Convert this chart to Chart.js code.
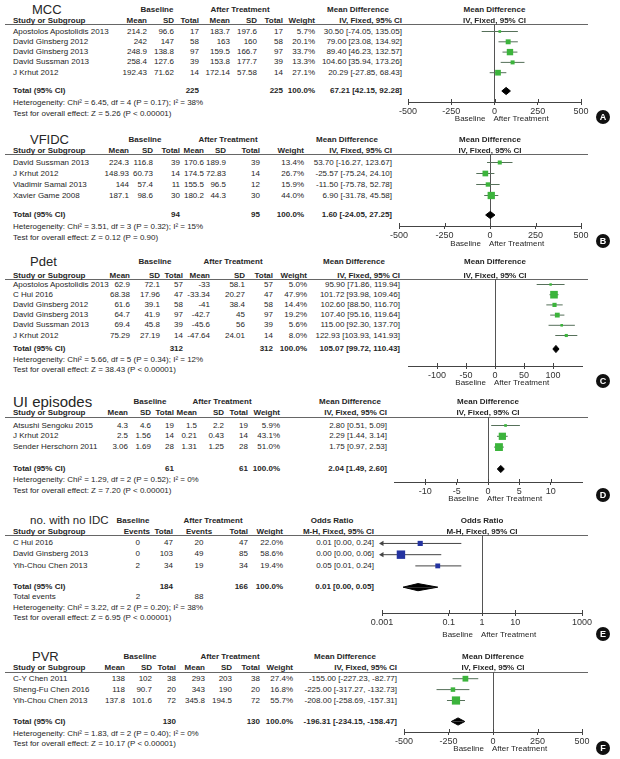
<!DOCTYPE html>
<html>
<head>
<meta charset="utf-8">
<script src="https://cdn.jsdelivr.net/npm/chart.js@4.4.0/dist/chart.umd.min.js"></script>
<style>
html, body { margin: 0; padding: 0; background: #fff; }
#page { position: relative; width: 620px; height: 759px; overflow: hidden; font-family: 'Liberation Sans', Arial, sans-serif; color: #262626; }
.t { position: absolute; white-space: nowrap; font-size: 8px; line-height: 10px; }
.b { font-weight: bold; }
.rule { position: absolute; height: 1px; background: #666; }
.badge { position: absolute; width: 14px; height: 14px; border-radius: 50%; background: #111; color: #fff; font-size: 9px; font-weight: bold; line-height: 14px; text-align: center; }
canvas { position: absolute; }
</style>
</head>
<body>
<div id="page"></div>
<script>
// ---- A: MCC ----
const mccStudy = ['Apostolos Apostolidis 2013', 'David Ginsberg 2012', 'David Ginsberg 2013', 'David Sussman 2013', 'J Krhut 2012'];
const mccBaseMean = [214.2, 242, 248.9, 258.4, 192.43];
const mccBaseSD = [96.6, 147, 138.8, 127.6, 71.62];
const mccBaseN = [17, 58, 97, 39, 14];
const mccAfterMean = [183.7, 163, 159.5, 153.8, 172.14];
const mccAfterSD = [197.6, 160, 166.7, 177.7, 57.58];
const mccAfterN = [17, 58, 97, 39, 14];
const mccWeight = [5.7, 20.1, 33.7, 13.3, 27.1];
const mccMD = [30.5, 79, 89.4, 104.6, 20.29];
const mccLo = [-74.05, 23.08, 46.23, 35.94, -27.85];
const mccHi = [135.05, 134.92, 132.57, 173.26, 68.43];
const mccTotal = [67.21, 42.15, 92.28];
const mccHet = [6.45, 4, 0.17, 38];
const mccZ = [5.26, '< 0.00001'];

// ---- B: VFIDC ----
const vfStudy = ['David Sussman 2013', 'J Krhut 2012', 'Vladimir Samal 2013', 'Xavier Game 2008'];
const vfBaseMean = [224.3, 148.93, 144, 187.1];
const vfBaseSD = [116.8, 60.73, 57.4, 98.6];
const vfBaseN = [39, 14, 11, 30];
const vfAfterMean = [170.6, 174.5, 155.5, 180.2];
const vfAfterSD = [189.9, 72.83, 96.5, 44.3];
const vfAfterN = [39, 14, 12, 30];
const vfWeight = [13.4, 26.7, 15.9, 44.0];
const vfMD = [53.7, -25.57, -11.5, 6.9];
const vfLo = [-16.27, -75.24, -75.78, -31.78];
const vfHi = [123.67, 24.1, 52.78, 45.58];
const vfTotal = [1.6, -24.05, 27.25];
const vfHet = [3.51, 3, 0.32, 15];
const vfZ = [0.12, '= 0.90'];

// ---- C: Pdet ----
const pdStudy = ['Apostolos Apostolidis 2013', 'C Hui 2016', 'David Ginsberg 2012', 'David Ginsberg 2013', 'David Sussman 2013', 'J Krhut 2012'];
const pdBaseMean = [62.9, 68.38, 61.6, 64.7, 69.4, 75.29];
const pdBaseSD = [72.1, 17.96, 39.1, 41.9, 45.8, 27.19];
const pdBaseN = [57, 47, 58, 97, 39, 14];
const pdAfterMean = [-33, -33.34, -41, -42.7, -45.6, -47.64];
const pdAfterSD = [58.1, 20.27, 38.4, 45, 56, 24.01];
const pdAfterN = [57, 47, 58, 97, 39, 14];
const pdWeight = [5.0, 47.9, 14.4, 19.2, 5.6, 8.0];
const pdMD = [95.9, 101.72, 102.6, 107.4, 115, 122.93];
const pdLo = [71.86, 93.98, 88.5, 95.16, 92.3, 103.93];
const pdHi = [119.94, 109.46, 116.7, 119.64, 137.7, 141.93];
const pdTotal = [105.07, 99.72, 110.43];
const pdHet = [5.66, 5, 0.34, 12];
const pdZ = [38.43, '< 0.00001'];

// ---- D: UI episodes ----
const uiStudy = ['Atsushi Sengoku 2015', 'J Krhut 2012', 'Sender Herschorn 2011'];
const uiBaseMean = [4.3, 2.5, 3.06];
const uiBaseSD = [4.6, 1.56, 1.69];
const uiBaseN = [19, 14, 28];
const uiAfterMean = [1.5, 0.21, 1.31];
const uiAfterSD = [2.2, 0.43, 1.25];
const uiAfterN = [19, 14, 28];
const uiWeight = [5.9, 43.1, 51.0];
const uiMD = [2.8, 2.29, 1.75];
const uiLo = [0.51, 1.44, 0.97];
const uiHi = [5.09, 3.14, 2.53];
const uiTotal = [2.04, 1.49, 2.6];
const uiHet = [1.29, 2, 0.52, 0];
const uiZ = [7.2, '< 0.00001'];

// ---- E: no. with no IDC (odds ratio) ----
const idcStudy = ['C Hui 2016', 'David Ginsberg 2013', 'Yih-Chou Chen 2013'];
const idcBaseEvents = [0, 0, 2];
const idcBaseN = [47, 103, 34];
const idcAfterEvents = [20, 49, 19];
const idcAfterN = [47, 85, 34];
const idcWeight = [22.0, 58.6, 19.4];
const idcOR = [0.014, 0.0037, 0.047];
const idcLo = [0.0004, 0.0002, 0.01];
const idcHi = [0.24, 0.06, 0.24];
const idcTotal = [0.012, 0.0043, 0.047];
const idcHet = [3.22, 2, 0.20, 38];
const idcZ = [6.95, '< 0.00001'];

// ---- F: PVR ----
const pvStudy = ['C-Y Chen 2011', 'Sheng-Fu Chen 2016', 'Yih-Chou Chen 2013'];
const pvBaseMean = [138, 118, 137.8];
const pvBaseSD = [102, 90.7, 101.6];
const pvBaseN = [38, 20, 72];
const pvAfterMean = [293, 343, 345.8];
const pvAfterSD = [203, 190, 194.5];
const pvAfterN = [38, 20, 72];
const pvWeight = [27.4, 16.8, 55.7];
const pvMD = [-155, -225, -208];
const pvLo = [-227.23, -317.27, -258.69];
const pvHi = [-82.77, -132.73, -157.31];
const pvTotal = [-196.31, -234.15, -158.47];
const pvHet = [1.83, 2, 0.40, 0];
const pvZ = [10.17, '< 0.00001'];

// axis ticks
const ticks500 = [-500, -250, 0, 250, 500];
const ticksPdet = [-100, -50, 0, 50, 100];
const ticksUI = [-10, -5, 0, 5, 10];
const ticksOR = [0.001, 0.1, 1, 10, 1000];

const FONT = "'Liberation Sans', Arial, sans-serif";
const GREEN = '#3cb43c', GLINE = '#56705a';
const page = document.getElementById('page');

function sum(a) { return a.reduce((s, v) => s + v, 0); }
function ciText(e, l, h) { return `${e.toFixed(2)} [${l.toFixed(2)}, ${h.toFixed(2)}]`; }

function txt(s, x, y, align, cls, size) {
    const d = document.createElement('div');
    d.className = 't' + (cls ? ' ' + cls : '');
    d.textContent = s;
    d.style.left = x + 'px';
    if (size) {
        d.style.fontSize = size + 'px';
        d.style.lineHeight = Math.round(size * 1.2) + 'px';
        d.style.top = (y - Math.round(size * 1.2) / 2) + 'px';
    } else {
        d.style.top = (y - 5) + 'px';
    }
    if (align === 'r') d.style.transform = 'translateX(-100%)';
    if (align === 'c') d.style.transform = 'translateX(-50%)';
    page.appendChild(d);
}

function hline(x1, x2, y) {
    const d = document.createElement('div');
    d.className = 'rule';
    d.style.left = x1 + 'px';
    d.style.width = (x2 - x1) + 'px';
    d.style.top = y + 'px';
    page.appendChild(d);
}

// small tick marks poking above the axis line too
const tickUp = {
    id: 'tickUp',
    afterDraw(chart) {
        const s = chart.scales.x, c = chart.ctx, yb = chart.chartArea.bottom;
        c.save();
        c.strokeStyle = '#444';
        c.lineWidth = 1;
        s.ticks.forEach(t => {
            const px = Math.round(s.getPixelForValue(t.value)) + 0.5;
            c.beginPath();
            c.moveTo(px, yb - 3);
            c.lineTo(px, yb);
            c.stroke();
        });
        c.restore();
    }
};

// forest plot part of a panel, drawn with Chart.js
function drawForest(p) {
    const Y = p.y, X = p.x, padX = 16, axH = 16;
    const w = X.axR - X.axL + 2 * padX, h = Y.axis - Y.rule + axH;
    const cv = document.createElement('canvas');
    cv.width = w; cv.height = h;
    cv.style.left = (X.axL - padX) + 'px';
    cv.style.top = Y.rule + 'px';
    page.appendChild(cv);

    const yMin = -(Y.row0 - Y.rule) / Y.sp;
    const yMax = yMin + (Y.axis - Y.rule) / Y.sp;
    const tIdx = (Y.total - Y.row0) / Y.sp;
    const dh = 3.6 / Y.sp;
    const [te, tl, th] = p.tot;

    const ds = [];
    ds.push({
        type: 'scatter', data: p.est.map((v, i) => ({ x: v, y: i })),
        pointStyle: 'rect', pointRadius: p.wt.map(wt => Math.sqrt(wt) * 1.1 / Math.SQRT2),
        backgroundColor: p.box, borderWidth: 0, order: 0
    });
    p.est.forEach((v, i) => ds.push({
        type: 'line', data: [{ x: p.lo[i], y: i }, { x: p.hi[i], y: i }],
        borderColor: p.line, borderWidth: 1, pointRadius: 0, order: 2
    }));
    // pooled estimate diamond (upper and lower halves)
    [-dh, dh].forEach(off => ds.push({
        type: 'line', data: [{ x: tl, y: tIdx }, { x: te, y: tIdx + off }, { x: th, y: tIdx }],
        fill: { value: tIdx }, backgroundColor: '#000', borderColor: '#000', borderWidth: 1,
        pointRadius: 0, order: 1
    }));
    // arrows for intervals running off the axis
    const cut = p.lo.map((v, i) => v < p.xmin ? { x: p.xmin, y: i } : null).filter(Boolean);
    if (cut.length) ds.push({
        type: 'scatter', data: cut, pointStyle: 'triangle', rotation: -90, pointRadius: 3,
        backgroundColor: p.line, borderWidth: 0, clip: false, order: 0
    });

    const chart = new Chart(cv, {
        type: 'scatter',
        data: { datasets: ds },
        plugins: [tickUp],
        options: {
            responsive: false, animation: false, events: [],
            layout: { autoPadding: false, padding: { left: padX, right: padX, top: 0, bottom: 0 } },
            plugins: { legend: { display: false }, tooltip: { enabled: false } },
            scales: {
                x: {
                    type: p.log ? 'logarithmic' : 'linear',
                    min: p.xmin, max: p.xmax,
                    afterBuildTicks: s => { s.ticks = p.ticks.map(v => ({ value: v })); },
                    afterFit: s => { s.height = axH; },
                    grid: {
                        color: c => (c.tick && c.tick.value === p.ref) ? '#555' : 'rgba(0,0,0,0)',
                        tickColor: '#444', tickLength: 3, lineWidth: 1
                    },
                    border: { display: true, color: '#444', width: 1 },
                    ticks: {
                        font: { family: FONT, size: 9 }, color: '#333', padding: 1,
                        maxRotation: 0, minRotation: 0, autoSkip: false,
                        callback: v => String(v)
                    }
                },
                y: { display: false, reverse: true, min: yMin, max: yMax }
            }
        }
    });

    const zx = X.axL - padX + chart.scales.x.getPixelForValue(p.ref);
    txt(p.kind === 'or' ? 'Odds Ratio' : 'Mean Difference', zx, Y.grp, 'c', 'b');
    txt(p.kind === 'or' ? 'M-H, Fixed, 95% CI' : 'IV, Fixed, 95% CI', zx, Y.head, 'c', 'b');
    txt('Baseline', zx - 9, Y.lab, 'r');
    txt('After Treatment', zx - 1, Y.lab, 'l');
}

function drawPanel(p) {
    const Y = p.y, X = p.x;
    txt(p.title, X.title, Y.title, 'l', '', p.titleSize);
    hline(5, 588, Y.rule);
    txt('Study or Subgroup', 13, Y.head, 'l', 'b');
    txt('Baseline', X.grpB, Y.grp, 'c', 'b');
    txt('After Treatment', X.grpA, Y.grp, 'c', 'b');

    if (p.kind === 'md') {
        ['Mean', 'SD', 'Total', 'Mean', 'SD', 'Total', 'Weight'].forEach((hd, k) => txt(hd, X.cols[k], Y.head, 'r', 'b'));
        txt('Mean Difference', X.ciHead, Y.grp, 'c', 'b');
        txt('IV, Fixed, 95% CI', X.ci, Y.head, 'r', 'b');
        p.study.forEach((s, i) => {
            const y = Y.row0 + i * Y.sp;
            txt(s, 13, y);
            [p.bm[i], p.bs[i], p.bn[i], p.am[i], p.as[i], p.an[i]].forEach((v, k) => txt(String(v), X.cols[k], y, 'r'));
            txt(p.wt[i].toFixed(1) + '%', X.cols[6], y, 'r');
            txt(ciText(p.est[i], p.lo[i], p.hi[i]), X.ci, y, 'r');
        });
        txt(String(sum(p.bn)), X.cols[2], Y.total, 'r', 'b');
        txt(String(sum(p.an)), X.cols[5], Y.total, 'r', 'b');
        txt('100.0%', X.cols[6], Y.total, 'r', 'b');
    } else {
        const hc = X.hcols;
        txt('Events', hc[0], Y.head, 'r', 'b');
        txt('Total', hc[1], Y.head, 'r', 'b');
        txt('Events', hc[2], Y.head, 'c', 'b');
        txt('Total', hc[3], Y.head, 'r', 'b');
        txt('Weight', hc[4], Y.head, 'r', 'b');
        txt('Odds Ratio', X.ciHead, Y.grp, 'c', 'b');
        txt('M-H, Fixed, 95% CI', X.ci, Y.head, 'r', 'b');
        p.study.forEach((s, i) => {
            const y = Y.row0 + i * Y.sp;
            txt(s, 13, y);
            txt(String(p.be[i]), X.cols[0], y, 'r');
            txt(String(p.bn[i]), X.cols[1], y, 'r');
            txt(String(p.ae[i]), X.cols[2], y, 'c');
            txt(String(p.an[i]), X.cols[3], y, 'r');
            txt(p.wt[i].toFixed(1) + '%', X.cols[4], y, 'r');
            txt(ciText(p.est[i], p.lo[i], p.hi[i]), X.ci, y, 'r');
        });
        txt(String(sum(p.bn)), X.cols[1], Y.total, 'r', 'b');
        txt(String(sum(p.an)), X.cols[3], Y.total, 'r', 'b');
        txt('100.0%', X.cols[4], Y.total, 'r', 'b');
        txt('Total events', 13, Y.tev);
        txt(String(sum(p.be)), X.cols[0] - 2, Y.tev, 'c');
        txt(String(sum(p.ae)), X.cols[2], Y.tev, 'c');
    }
    txt('Total (95% CI)', 13, Y.total, 'l', 'b');
    txt(ciText(...p.tot), X.ci, Y.total, 'r', 'b');
    const hz = p.het;
    txt(`Heterogeneity: Chi² = ${hz[0].toFixed(2)}, df = ${hz[1]} (P = ${hz[2].toFixed(2)}); I² = ${hz[3]}%`, 13, Y.het);
    txt(`Test for overall effect: Z = ${p.z[0].toFixed(2)} (P ${p.z[1]})`, 13, Y.test);

    drawForest(p);

    const b = document.createElement('div');
    b.className = 'badge';
    b.textContent = p.letter;
    b.style.left = (603 - 7) + 'px';
    b.style.top = (Y.letter - 7) + 'px';
    page.appendChild(b);
}

const panels = [
    {
        letter: 'A', title: 'MCC', titleSize: 13, kind: 'md',
        study: mccStudy, bm: mccBaseMean, bs: mccBaseSD, bn: mccBaseN, am: mccAfterMean, as: mccAfterSD, an: mccAfterN,
        wt: mccWeight, est: mccMD, lo: mccLo, hi: mccHi, tot: mccTotal, het: mccHet, z: mccZ,
        ticks: ticks500, xmin: -500, xmax: 500, ref: 0, box: GREEN, line: GLINE,
        y: { title: 10, grp: 10, head: 21, rule: 24, row0: 31.5, sp: 10.3, total: 91, het: 103, test: 113.5, axis: 102, lab: 119, letter: 117 },
        x: { title: 32, cols: [147, 174, 199, 230, 257, 283, 315], ci: 402, ciHead: 358, grpB: 157, grpA: 240, axL: 408, axR: 581 }
    },
    {
        letter: 'B', title: 'VFIDC', titleSize: 13, kind: 'md',
        study: vfStudy, bm: vfBaseMean, bs: vfBaseSD, bn: vfBaseN, am: vfAfterMean, as: vfAfterSD, an: vfAfterN,
        wt: vfWeight, est: vfMD, lo: vfLo, hi: vfHi, tot: vfTotal, het: vfHet, z: vfZ,
        ticks: ticks500, xmin: -500, xmax: 500, ref: 0, box: GREEN, line: GLINE,
        y: { title: 140, grp: 140, head: 150.5, rule: 154, row0: 162.5, sp: 11, total: 215, het: 227, test: 237.5, axis: 226, lab: 244, letter: 241 },
        x: { title: 30, cols: [129, 153, 180, 204, 226, 260, 304], ci: 392, ciHead: 347, grpB: 145, grpA: 228, axL: 399, axR: 581 }
    },
    {
        letter: 'C', title: 'Pdet', titleSize: 13, kind: 'md',
        study: pdStudy, bm: pdBaseMean, bs: pdBaseSD, bn: pdBaseN, am: pdAfterMean, as: pdAfterSD, an: pdAfterN,
        wt: pdWeight, est: pdMD, lo: pdLo, hi: pdHi, tot: pdTotal, het: pdHet, z: pdZ,
        ticks: ticksPdet, xmin: -150, xmax: 150, ref: 0, box: GREEN, line: GLINE,
        y: { title: 262, grp: 262, head: 275.5, rule: 279, row0: 284.5, sp: 10.2, total: 349, het: 359.5, test: 370, axis: 366, lab: 383, letter: 381 },
        x: { title: 30, cols: [130, 160, 183, 210, 245, 273, 307], ci: 400, ciHead: 354, grpB: 155, grpA: 233, axL: 408, axR: 582 }
    },
    {
        letter: 'D', title: 'UI episodes', titleSize: 15, kind: 'md',
        study: uiStudy, bm: uiBaseMean, bs: uiBaseSD, bn: uiBaseN, am: uiAfterMean, as: uiAfterSD, an: uiAfterN,
        wt: uiWeight, est: uiMD, lo: uiLo, hi: uiHi, tot: uiTotal, het: uiHet, z: uiZ,
        ticks: ticksUI, xmin: -15, xmax: 15, ref: 0, box: GREEN, line: GLINE,
        y: { title: 402, grp: 402, head: 413, rule: 417, row0: 425.5, sp: 10.8, total: 469, het: 480, test: 490.5, axis: 482, lab: 499, letter: 495 },
        x: { title: 13, cols: [128, 151, 174, 197, 224, 248, 280], ci: 387, ciHead: 350, grpB: 150, grpA: 222, axL: 394, axR: 582 }
    },
    {
        letter: 'E', title: 'no. with no IDC', titleSize: 11.5, kind: 'or', log: true,
        study: idcStudy, be: idcBaseEvents, bn: idcBaseN, ae: idcAfterEvents, an: idcAfterN,
        wt: idcWeight, est: idcOR, lo: idcLo, hi: idcHi, tot: idcTotal, het: idcHet, z: idcZ,
        ticks: ticksOR, xmin: 0.001, xmax: 1000, ref: 1, box: '#2433a0', line: '#444',
        y: { title: 520, grp: 521, head: 532, rule: 534.5, row0: 543, sp: 11.3, total: 587, tev: 597, het: 607.5, test: 618, axis: 613, lab: 635, letter: 634 },
        x: { title: 30, cols: [140, 173, 199, 248, 283], hcols: [150, 173, 199, 248, 283], ci: 374, ciHead: 332, grpB: 133, grpA: 213, axL: 382, axR: 582 }
    },
    {
        letter: 'F', title: 'PVR', titleSize: 13, kind: 'md',
        study: pvStudy, bm: pvBaseMean, bs: pvBaseSD, bn: pvBaseN, am: pvAfterMean, as: pvAfterSD, an: pvAfterN,
        wt: pvWeight, est: pvMD, lo: pvLo, hi: pvHi, tot: pvTotal, het: pvHet, z: pvZ,
        ticks: ticks500, xmin: -500, xmax: 500, ref: 0, box: GREEN, line: GLINE,
        y: { title: 657, grp: 657, head: 668, rule: 672, row0: 678.7, sp: 10.9, total: 721.5, het: 733.5, test: 744, axis: 732, lab: 749, letter: 748 },
        x: { title: 32, cols: [125, 152, 176, 205, 232, 260, 293], ci: 397, ciHead: 345, grpB: 140, grpA: 230, axL: 404, axR: 582 }
    }
];

panels.forEach(drawPanel);
</script>
</body>
</html>
